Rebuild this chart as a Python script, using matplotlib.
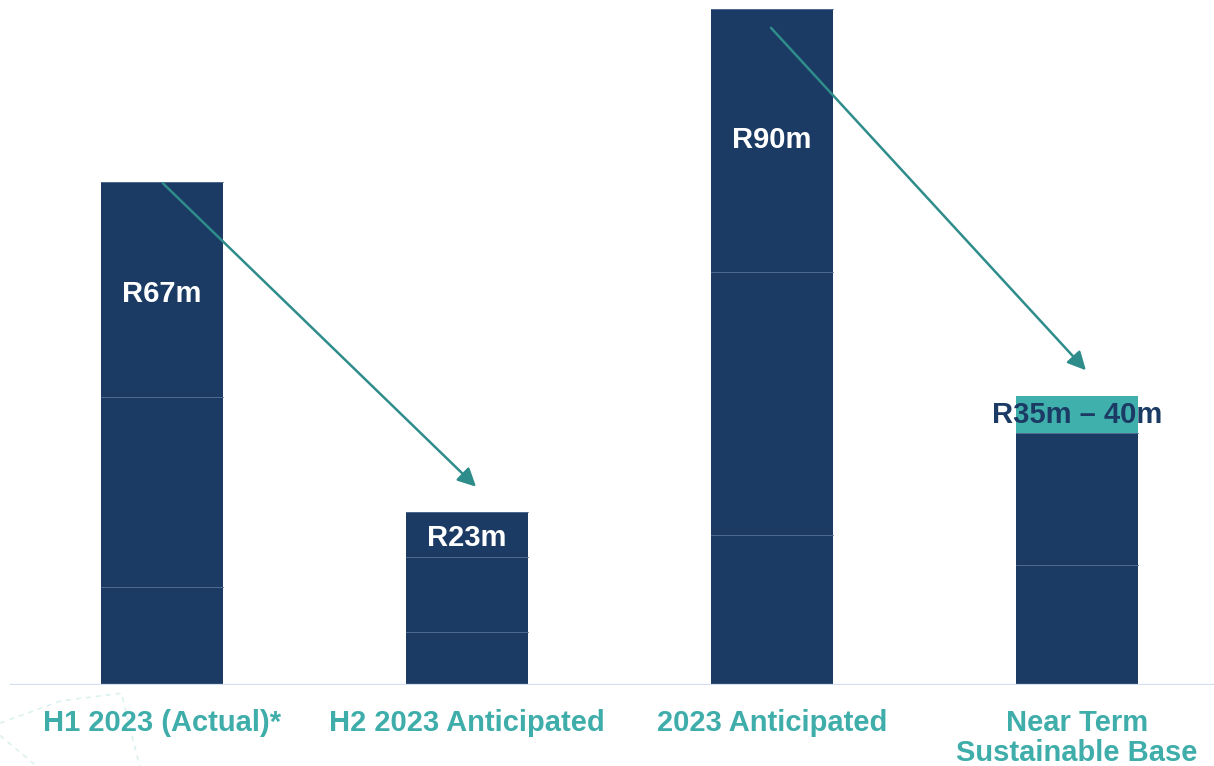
import matplotlib.pyplot as plt
from matplotlib.lines import Line2D

plt.rcParams['font.family'] = ['Liberation Sans', 'DejaVu Sans']

categories = ['H1 2023 (Actual)*', 'H2 2023 Anticipated', '2023 Anticipated',
              'Near Term\nSustainable Base']
# stacked segments (R million), bottom to top
segments = [
    [13, 25.4, 28.6],
    [7, 10, 6],
    [20, 35, 35],
    [16, 17.5],
]
range_top = [0, 0, 0, 5]          # teal band for the 35-40 range
labels = ['R67m', 'R23m', 'R90m', 'R35m \u2013 40m']
label_y = [52, 19.6, 72.6, 36.0]

navy = '#1b3a64'
teal = '#40b0ad'
arrow_c = '#2e8d8b'
label_c = '#3fadaa'

fig = plt.figure(figsize=(12.14, 7.66), dpi=100)
ax = fig.add_axes([9.5 / 1214, 81 / 766, 1204.5 / 1214, 676 / 766])
ax.set_xlim(-0.5, 3.45)
ax.set_ylim(0, 90)
ax.axis('off')

w = 0.4
for i, segs in enumerate(segments):
    bottom = 0
    for s in segs:
        ax.bar(i, s, bottom=bottom, width=w, color=navy, edgecolor='none')
        bottom += s
        ax.plot([i - w / 2, i + w / 2], [bottom, bottom], color='#5a7499', lw=0.6, zorder=3)
    if range_top[i]:
        ax.bar(i, range_top[i], bottom=bottom, width=w, color=teal, edgecolor='none')
    txt_c = 'white' if not range_top[i] else navy
    ax.text(i, label_y[i], labels[i], color=txt_c, fontsize=21, fontweight='bold',
            ha='center', va='center', zorder=5)

# baseline
ax.axhline(0, xmin=0.0005, xmax=1, color='#d3def2', lw=1.6, zorder=4)

# trend arrows
arrow_kw = dict(arrowstyle='-|>,head_length=1.1,head_width=0.55', color=arrow_c, lw=1.8,
                shrinkA=0, shrinkB=0)
ax.annotate('', xy=(1.03, 26.4), xytext=(0.003, 66.8), arrowprops=arrow_kw, zorder=6)
ax.annotate('', xy=(3.03, 41.9), xytext=(1.997, 87.5), arrowprops=arrow_kw, zorder=6)

# category labels
for i, c in enumerate(categories):
    ax.text(i, -3.15, c, color=label_c, fontsize=21, fontweight='bold',
            ha='center', va='top', linespacing=1.12)

# faint decorative dashes bottom-left
fig.add_artist(Line2D([0, 0.05, 0.1, 0.115], [0.056, 0.085, 0.095, 0.0],
                      transform=fig.transFigure, color='#dcf1f0', lw=1.2, ls=(0, (3, 3)),
                      zorder=-1))
fig.add_artist(Line2D([0, 0.03], [0.04, 0.0], transform=fig.transFigure,
                      color='#dcf1f0', lw=1.2, ls=(0, (3, 3)), zorder=-1))

fig.savefig('out.png', dpi=100, facecolor='white')
